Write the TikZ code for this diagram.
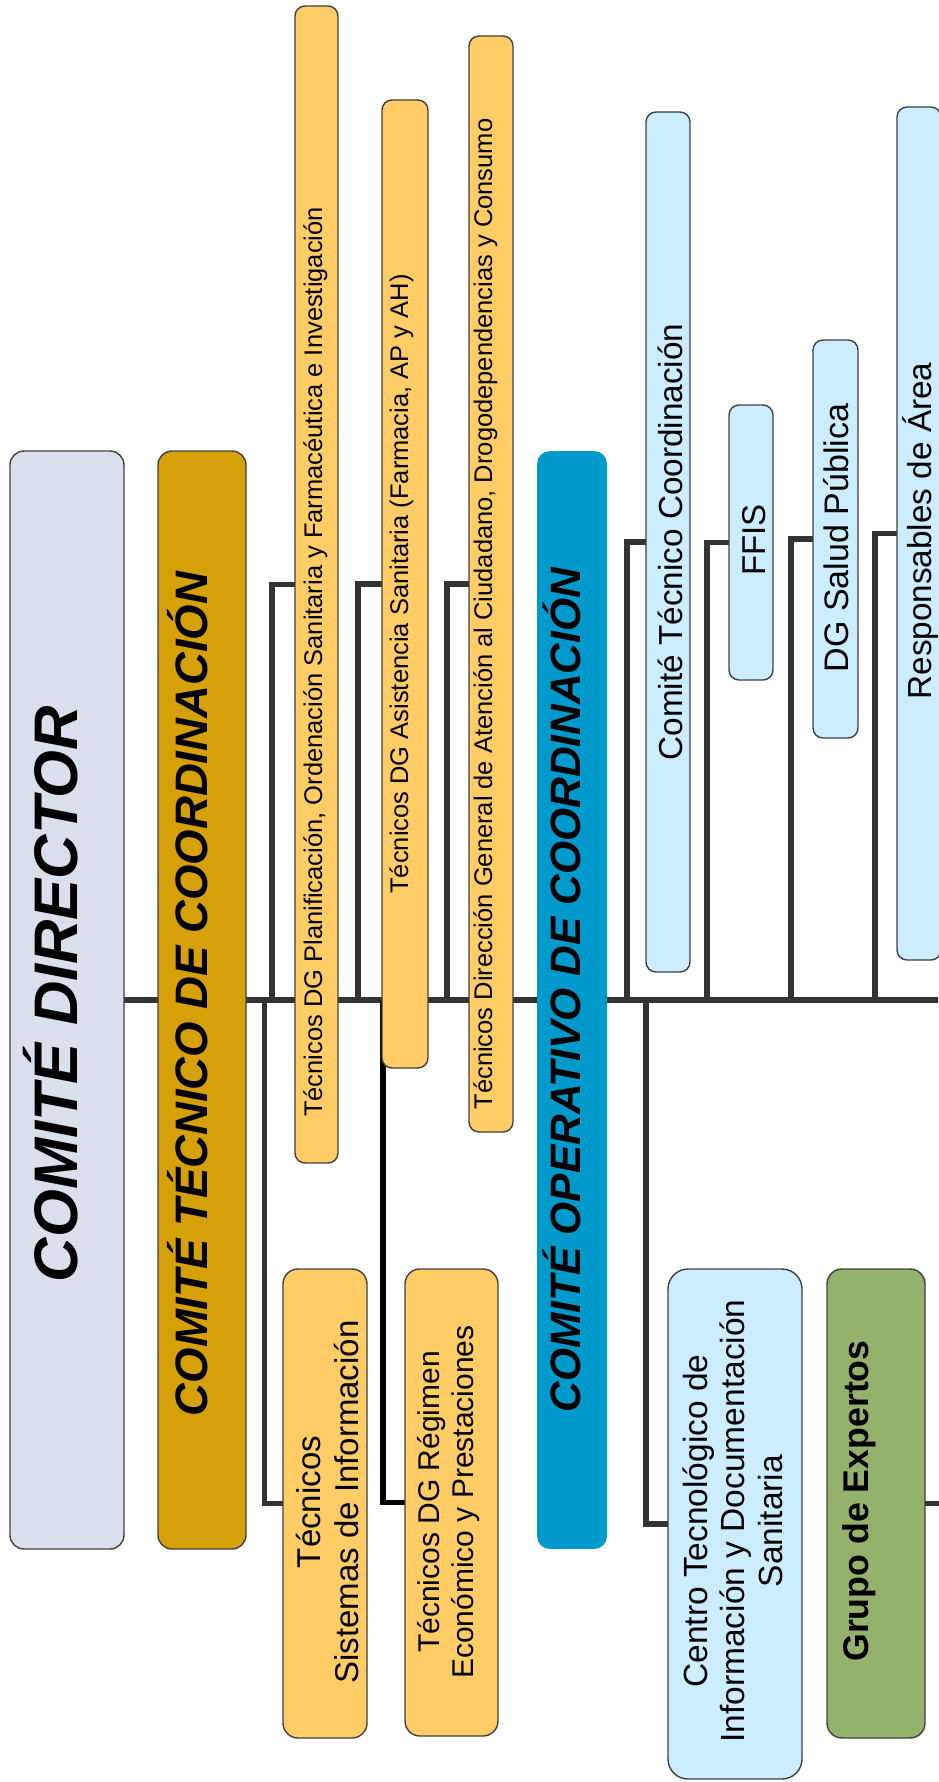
\documentclass[tikz,border=0pt]{standalone}
\usepackage{fontspec}
\setmainfont{Liberation Sans}
\usetikzlibrary{backgrounds}
\definecolor{cdfill}{HTML}{D9E0EB}
\definecolor{ctcfill}{HTML}{D5A008}
\definecolor{orfill}{HTML}{FFCC66}
\definecolor{cocfill}{HTML}{0099CC}
\definecolor{lbfill}{HTML}{CCECFF}
\definecolor{grfill}{HTML}{94B26B}
\definecolor{boxline}{HTML}{404040}
\definecolor{lnc}{HTML}{333333}
\begin{document}
\begin{tikzpicture}[x=1pt,y=-1pt,
  box/.style={draw=boxline,line width=1.4pt,rounded corners=#1,inner sep=0pt,outer sep=0pt},
  box/.default=10pt,
  conn/.style={draw=lnc,line width=5.2pt},
  mainln/.style={draw=lnc,line width=6.5pt},
  vtxt/.style={rotate=90,anchor=base,inner sep=0pt},
  vblk/.style={rotate=90,anchor=center,inner sep=0pt,align=center}]
\useasboundingbox (0,0) rectangle (938,1782);

% boxes
\node[box=14pt,fill=cdfill,minimum width=114pt,minimum height=1098pt] (cd) at (67,1000) {};
\node[box=14pt,fill=ctcfill,minimum width=88pt,minimum height=1098pt] (ctc) at (202,1000) {};
\node[box=13pt,draw=none,fill=cocfill,minimum width=70pt,minimum height=1098pt] (coc) at (572,1000) {};
\node[box,fill=orfill,minimum width=43pt,minimum height=1157pt] (tpl) at (316.5,584.5) {};
\node[box,fill=orfill,minimum width=46pt,minimum height=968pt] (tas) at (405,584) {};
\node[box,fill=orfill,minimum width=44pt,minimum height=1096pt] (tdg) at (491,584) {};
\node[box=15pt,fill=orfill,minimum width=84pt,minimum height=469pt] (tsi) at (325,1503.5) {};
\node[box=15pt,fill=orfill,minimum width=93pt,minimum height=467pt] (tre) at (451.5,1502.5) {};
\node[box,fill=lbfill,minimum width=44pt,minimum height=860pt] (ctcoord) at (668,542) {};
\node[box,fill=lbfill,minimum width=44pt,minimum height=275pt] (ffis) at (751,542.5) {};
\node[box,fill=lbfill,minimum width=45pt,minimum height=398pt] (dgsp) at (835.5,539) {};
\node[box,fill=lbfill,minimum width=44pt,minimum height=853pt] (resp) at (919,533.5) {};
\node[box=20pt,fill=lbfill,minimum width=134pt,minimum height=510pt] (centro) at (735,1524) {};
\node[box=15pt,fill=grfill,minimum width=98pt,minimum height=469pt] (grupo) at (876,1503.5) {};

% connectors
\begin{pgfonlayer}{background}
\coordinate (r) at (938,1000);
\draw[mainln] (cd.east) -- (r);
\coordinate (j1) at (272,1000);
\coordinate (j2) at (264.5,1000);
\coordinate (j3) at (358,1000);
\coordinate (j4) at (383,1000);
\coordinate (j5) at (447,1000);
\coordinate (j6) at (627,1000);
\coordinate (j7) at (646,1000);
\coordinate (j8) at (707,1000);
\coordinate (j9) at (791,1000);
\coordinate (j10) at (875,1000);
\coordinate (g) at (945,1503.5);
\draw[conn] (j1) |- (tpl.west);
\draw[conn] (j2) |- (tsi.west);
\draw[conn] (j3) |- (tas.west);
\draw[conn,draw=black] (j4) |- (tre.west);
\draw[conn] (j5) |- (tdg.west);
\draw[conn] (j6) |- (ctcoord.west);
\draw[conn] (j7) |- (centro.west);
\draw[conn] (j8) |- (ffis.west);
\draw[conn] (j9) |- (dgsp.west);
\draw[conn] (j10) |- (resp.west);
\draw[conn] (grupo.east) -- (g);
\end{pgfonlayer}

% texts
\node[vtxt,font={\fontsize{61.5pt}{70pt}\selectfont\bfseries\itshape}] (tcd) at (77,994) {COMITÉ DIRECTOR};
\node[vtxt,font={\fontsize{45.5pt}{52pt}\selectfont\bfseries\itshape}] (tctc) at (207,994) {COMITÉ TÉCNICO DE COORDINACIÓN};
\node[vtxt,font={\fontsize{42.5pt}{50pt}\selectfont\bfseries\itshape}] (tcoc) at (580,990) {COMITÉ OPERATIVO DE COORDINACIÓN};
\node[vtxt,font={\fontsize{25.5pt}{30pt}\selectfont}] (ttpl) at (322,662) {Técnicos DG Planificación, Ordenación Sanitaria y Farmacéutica e Investigación};
\node[vtxt,font={\fontsize{25.5pt}{30pt}\selectfont}] (ttas) at (408,584) {Técnicos DG Asistencia Sanitaria (Farmacia, AP y AH)};
\node[vtxt,font={\fontsize{25.5pt}{30pt}\selectfont}] (ttdg) at (492,614) {Técnicos Dirección General de Atención al Ciudadano, Drogodependencias y Consumo};
\node[vtxt,font={\fontsize{33.3pt}{38pt}\selectfont}] (tctcoord) at (682,542) {Comité Técnico Coordinación};
\node[vtxt,font={\fontsize{33pt}{38pt}\selectfont}] (tffis) at (765,540) {FFIS};
\node[vtxt,font={\fontsize{34pt}{38pt}\selectfont}] (tdgsp) at (848,538) {DG Salud Pública};
\node[vtxt,font={\fontsize{33.3pt}{38pt}\selectfont}] (tresp) at (931,531) {Responsables de Área};
\node[vblk,font={\fontsize{33pt}{38pt}\selectfont}] (ttsi) at (331.4,1502) {\strut Técnicos\\\strut Sistemas de Información};
\node[vblk,font={\fontsize{30pt}{34pt}\selectfont}] (ttre) at (449.7,1502) {\strut Técnicos DG Régimen\\\strut Económico y Prestaciones};
\node[vblk,font={\fontsize{33.5pt}{37.5pt}\selectfont}] (tcentro) at (737,1521) {\strut Centro Tecnológico de\\\strut Información y Documentación\\\strut Sanitaria};
\node[vtxt,font={\fontsize{35.7pt}{40pt}\selectfont\bfseries}] (tgrupo) at (868,1501) {Grupo de Expertos};
\end{tikzpicture}
\end{document}
